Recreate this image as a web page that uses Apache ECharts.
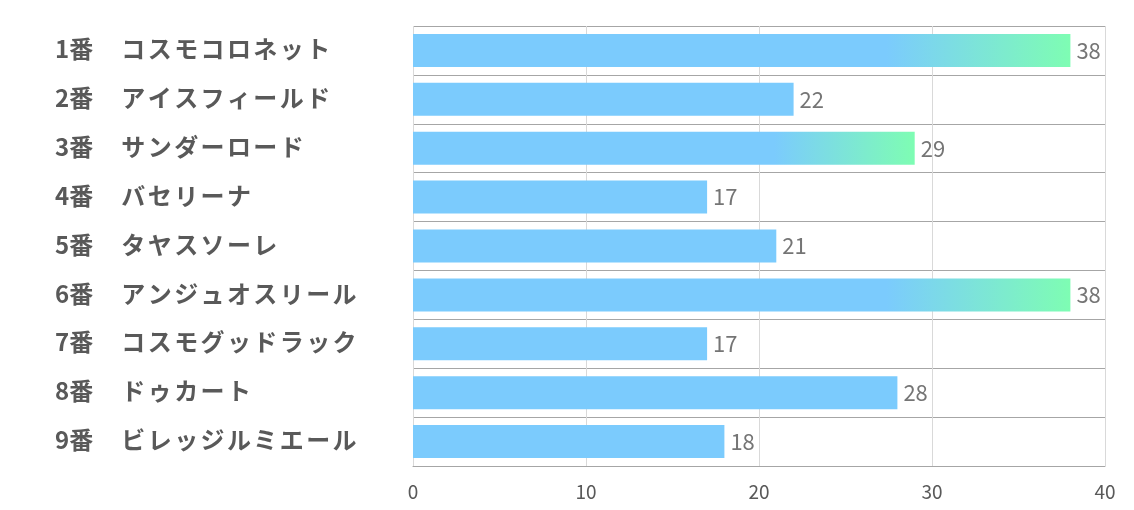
<!DOCTYPE html>
<html><head><meta charset="utf-8">
<script src="https://cdn.jsdelivr.net/npm/echarts@6/dist/echarts.min.js"></script>
<style>html,body{margin:0;padding:0;background:#fff}#c{width:1134px;height:510px}</style>
</head><body><div id="c"></div>
<script>
const numbers = ['1番','2番','3番','4番','5番','6番','7番','8番','9番'];
const names = ['コスモコロネット','アイスフィールド','サンダーロード','バセリーナ','タヤスソーレ','アンジュオスリール','コスモグッドラック','ドゥカート','ビレッジルミエール'];
const values = [38,22,29,17,21,38,17,28,18];
const highlightTop = 3;
const xTicks = [0,10,20,30,40];

const sorted = values.slice().sort((a,b)=>b-a);
const threshold = sorted[highlightTop-1];
const categories = numbers.map((n,i)=>n+'　'+names[i]);
const blue = '#7BCBFD', green = '#7EFDB3';
const data = values.map(v => ({
  value: v,
  itemStyle: { color: v >= threshold ? new echarts.graphic.LinearGradient(0,0,1,0,[
    {offset:0,color:blue},{offset:0.72,color:blue},{offset:1,color:green}]) : blue }
}));

const labelFont = {color:'#595959',fontSize:24,fontWeight:'bold',fontFamily:'Noto Sans CJK JP'};
function fmt(v){
  const parts = v.split('　');
  const chars = Array.from(parts[1]).map(ch=>'{c|'+ch+'}').join('');
  return '{n|'+parts[0]+'}{g|}'+chars;
}

const chart = echarts.init(document.getElementById('c'));
chart.setOption({
  animation:false,
  grid:{left:413,right:29,top:26,bottom:44,containLabel:false},
  xAxis:{type:'value',min:xTicks[0],max:xTicks[xTicks.length-1],interval:10,
    axisLine:{show:true,lineStyle:{color:'#a6a6a6'}},axisTick:{show:false},
    axisLabel:{color:'#595959',fontSize:19,margin:16,fontFamily:'Liberation Sans Narrow, Noto Sans CJK JP'},
    splitLine:{show:true,lineStyle:{color:'#d9d9d9'}}},
  yAxis:{type:'category',data:categories,inverse:true,
    axisLine:{show:false},axisTick:{show:false},
    axisLabel:{align:'left',margin:358,formatter:fmt,padding:[0,0,3,0],
      rich:{
        n:Object.assign({},labelFont),
        g:{width:27},
        c:Object.assign({padding:[0,1.2,0,1.2]},labelFont)
      }},
    splitLine:{show:true,lineStyle:{color:'#a6a6a6'}}},
  series:[{type:'bar',data:data,barWidth:33,
    label:{show:true,position:'right',distance:6,color:'#757575',fontSize:22,fontFamily:'Noto Sans CJK JP',padding:[0,0,3,0]}}]
});
</script></body></html>
